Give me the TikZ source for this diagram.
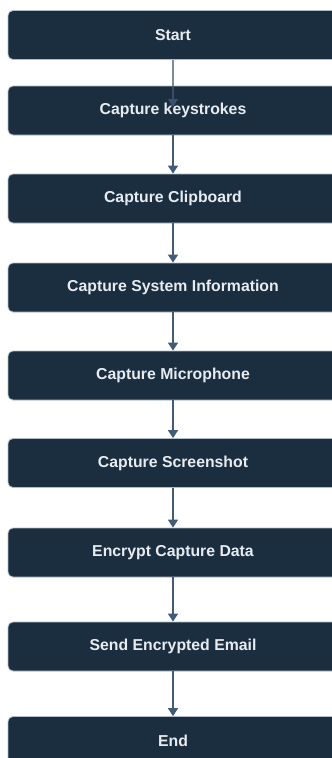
\documentclass[tikz,border=0pt]{standalone}
\usepackage{fontspec}
\setmainfont{Liberation Sans}
\usetikzlibrary{arrows.meta}

\definecolor{boxnavy}{RGB}{27,46,64}
\definecolor{boxedge}{RGB}{178,188,198}
\definecolor{flowline}{RGB}{66,92,120}
\definecolor{boxtext}{RGB}{232,236,240}

\tikzset{
  stepbox/.style={rectangle, rounded corners=5pt, fill=boxnavy, draw=boxedge,
    line width=0.8pt, minimum width=330pt, minimum height=49pt, inner sep=0pt,
    text=boxtext, font=\fontsize{15.8}{18}\selectfont\bfseries},
  flow/.style={draw=flowline, line width=1.5pt,
    -{Triangle[width=10pt,length=8pt]}}
}

\begin{document}
\begin{tikzpicture}[x=1pt,y=1pt]
                \useasboundingbox (0,0) rectangle (332,-758);
                \clip (0,0) rectangle (332,-758);

                % Drawing box Start
                \node [stepbox] (start) at (173,-35) {Start};%

                % Drawing box keys
                \node [stepbox] (keys) at (173,-110.5) {Capture keystrokes};%

                % Drawing box clip
                \node [stepbox] (clip) at (173,-198.5) {Capture Clipboard};%

                % Drawing box sysinfo
                \node [stepbox] (sysinfo) at (173,-287.5) {Capture System Information};%

                % Drawing box mic
                \node [stepbox] (mic) at (173,-375.5) {Capture Microphone};%

                % Drawing box shot
                \node [stepbox] (shot) at (173,-463) {Capture Screenshot};%

                % Drawing box encrypt
                \node [stepbox] (encrypt) at (173,-552.5) {Encrypt Capture Data};%

                % Drawing box email
                \node [stepbox] (email) at (173,-646.5) {Send Encrypted Email};%

                % Drawing box End
                \node [stepbox] (finish) at (173,-741) {End};%

                % First connector runs into the keystrokes box
                \coordinate (keystip) at (173,-107);
                \draw [flow, opacity=0.7] (start.south) -- (keystip);%

                % Connectors down the chain
                \draw [flow] (keys.south) -- (clip.north);%
                \draw [flow] (clip.south) -- (sysinfo.north);%
                \draw [flow] (sysinfo.south) -- (mic.north);%
                \draw [flow] (mic.south) -- (shot.north);%
                \draw [flow] (shot.south) -- (encrypt.north);%
                \draw [flow] (encrypt.south) -- (email.north);%
                \draw [flow] (email.south) -- (finish.north);%
\end{tikzpicture}
\end{document}
